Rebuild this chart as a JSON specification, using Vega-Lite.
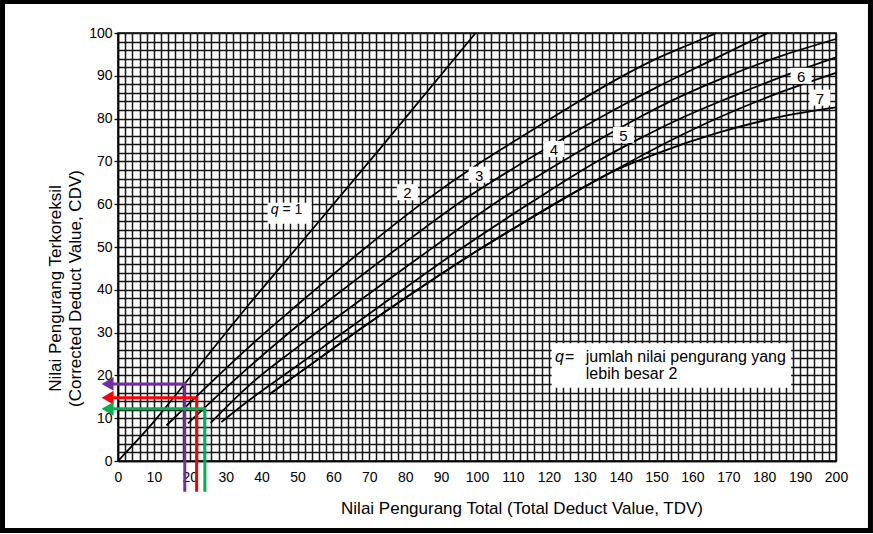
{
  "$schema": "https://vega.github.io/schema/vega-lite/v6.json",
  "width": 718,
  "height": 428,
  "autosize": {"type": "none"},
  "padding": {"left": 118, "top": 33, "right": 37, "bottom": 73},
  "background": "white",
  "config": {
    "font": "Liberation Sans",
    "view": {"stroke": "#000", "strokeWidth": 1.5}
  },
  "datasets": {
    "curves": [
      {"q": "1", "x": 0, "y": 0}, {"q": "1", "x": 10, "y": 9.2}, {"q": "1", "x": 20, "y": 19.5}, {"q": "1", "x": 36.7, "y": 36.8}, {"q": "1", "x": 50, "y": 50}, {"q": "1", "x": 73, "y": 73}, {"q": "1", "x": 99.6, "y": 100},
      {"q": "2", "x": 13.5, "y": 8.3}, {"q": "2", "x": 20, "y": 13.6}, {"q": "2", "x": 36.7, "y": 26.8}, {"q": "2", "x": 50, "y": 36.5}, {"q": "2", "x": 68.6, "y": 49.6}, {"q": "2", "x": 85.3, "y": 60.6}, {"q": "2", "x": 100, "y": 69.2}, {"q": "2", "x": 111.7, "y": 75.4}, {"q": "2", "x": 125.6, "y": 82.6}, {"q": "2", "x": 139.4, "y": 89.4}, {"q": "2", "x": 150, "y": 94}, {"q": "2", "x": 160, "y": 97.6}, {"q": "2", "x": 166.7, "y": 100},
      {"q": "3", "x": 19.5, "y": 8.8}, {"q": "3", "x": 36.7, "y": 22.1}, {"q": "3", "x": 50, "y": 31.6}, {"q": "3", "x": 77.4, "y": 49.4}, {"q": "3", "x": 95.9, "y": 60.8}, {"q": "3", "x": 111.7, "y": 69.2}, {"q": "3", "x": 125, "y": 75.8}, {"q": "3", "x": 139.4, "y": 82.6}, {"q": "3", "x": 150, "y": 87.3}, {"q": "3", "x": 165, "y": 93.5}, {"q": "3", "x": 181, "y": 100},
      {"q": "4", "x": 25.8, "y": 8.9}, {"q": "4", "x": 36.7, "y": 17.8}, {"q": "4", "x": 50, "y": 26.6}, {"q": "4", "x": 87.1, "y": 49.5}, {"q": "4", "x": 105.6, "y": 60.6}, {"q": "4", "x": 121.4, "y": 68.8}, {"q": "4", "x": 133.9, "y": 75}, {"q": "4", "x": 145, "y": 80.2}, {"q": "4", "x": 156, "y": 84.9}, {"q": "4", "x": 170, "y": 90}, {"q": "4", "x": 185, "y": 94.7}, {"q": "4", "x": 200, "y": 98.6},
      {"q": "5", "x": 28.8, "y": 9.1}, {"q": "5", "x": 36.7, "y": 14.3}, {"q": "5", "x": 50, "y": 22.3}, {"q": "5", "x": 70, "y": 34.4}, {"q": "5", "x": 95, "y": 49.3}, {"q": "5", "x": 115.8, "y": 60.8}, {"q": "5", "x": 133.9, "y": 70.2}, {"q": "5", "x": 145, "y": 75.2}, {"q": "5", "x": 156.1, "y": 79.8}, {"q": "5", "x": 170, "y": 84.8}, {"q": "5", "x": 185, "y": 89.8}, {"q": "5", "x": 200, "y": 94.3},
      {"q": "6", "x": 42.2, "y": 15.6}, {"q": "6", "x": 50, "y": 20.3}, {"q": "6", "x": 70, "y": 32.3}, {"q": "6", "x": 100.6, "y": 49.4}, {"q": "6", "x": 111.7, "y": 55.1}, {"q": "6", "x": 125.6, "y": 62}, {"q": "6", "x": 137, "y": 67.3}, {"q": "6", "x": 150, "y": 73.2}, {"q": "6", "x": 167.2, "y": 80.2}, {"q": "6", "x": 185, "y": 86.3}, {"q": "6", "x": 200, "y": 90.7},
      {"q": "7", "x": 42.2, "y": 15.6}, {"q": "7", "x": 50, "y": 20.3}, {"q": "7", "x": 70, "y": 32.3}, {"q": "7", "x": 100.6, "y": 49.4}, {"q": "7", "x": 111.7, "y": 55.1}, {"q": "7", "x": 125.6, "y": 62}, {"q": "7", "x": 137, "y": 67.3}, {"q": "7", "x": 150, "y": 71.8}, {"q": "7", "x": 167.2, "y": 76.7}, {"q": "7", "x": 185, "y": 80.5}, {"q": "7", "x": 200, "y": 82.6}
    ],
    "digits": [
      {"t": "2", "x": 80.6, "y": 62.8},
      {"t": "3", "x": 100.6, "y": 66.9},
      {"t": "4", "x": 121.4, "y": 72.9},
      {"t": "5", "x": 140.8, "y": 76.2},
      {"t": "6", "x": 190.3, "y": 90},
      {"t": "7", "x": 195.5, "y": 84.9}
    ],
    "qbox": [{"x": 47.8, "y": 57.9}],
    "notes": [
      {"k": "qi", "t": "q", "x": 43.6, "y": 58.6},
      {"k": "qn", "t": "= 1", "x": 45.8, "y": 58.6},
      {"k": "li", "t": "q", "x": 121.7, "y": 23.2},
      {"k": "ln", "t": "=", "x": 124.5, "y": 23.2},
      {"k": "ln", "t": "jumlah nilai pengurang yang", "x": 130.3, "y": 23.2},
      {"k": "ln", "t": "lebih besar 2", "x": 130.3, "y": 19.1}
    ],
    "arrows": [
      {"c": "purple", "o": 0, "x": 18.6, "y": -7.2}, {"c": "purple", "o": 1, "x": 18.6, "y": 18}, {"c": "purple", "o": 2, "x": -2, "y": 18},
      {"c": "red", "o": 0, "x": 21.9, "y": -7.2}, {"c": "red", "o": 1, "x": 21.9, "y": 14.8}, {"c": "red", "o": 2, "x": -2, "y": 14.8},
      {"c": "green", "o": 0, "x": 24.2, "y": -7.2}, {"c": "green", "o": 1, "x": 24.2, "y": 12.2}, {"c": "green", "o": 2, "x": -2, "y": 12.2}
    ],
    "heads": [
      {"c": "purple", "x": -2.9, "y": 18},
      {"c": "red", "x": -2.9, "y": 14.8},
      {"c": "green", "x": -2.9, "y": 12.2}
    ]
  },
  "layer": [
    {
      "data": {"name": "curves"},
      "mark": {"type": "line", "interpolate": "monotone", "color": "#000", "strokeWidth": 1.8},
      "encoding": {
        "x": {
          "field": "x", "type": "quantitative",
          "scale": {"domain": [0, 200], "nice": false, "zero": false},
          "axis": {
            "title": "Nilai Pengurang Total (Total Deduct Value, TDV)",
            "values": [0,2,4,6,8,10,12,14,16,18,20,22,24,26,28,30,32,34,36,38,40,42,44,46,48,50,52,54,56,58,60,62,64,66,68,70,72,74,76,78,80,82,84,86,88,90,92,94,96,98,100,102,104,106,108,110,112,114,116,118,120,122,124,126,128,130,132,134,136,138,140,142,144,146,148,150,152,154,156,158,160,162,164,166,168,170,172,174,176,178,180,182,184,186,188,190,192,194,196,198,200],
            "tickCount": 1000,
            "format": "d",
            "labelExpr": "datum.value % 10 === 0 ? datum.label : ''",
            "labelOverlap": false, "labelFlush": false, "labelBound": false,
            "ticks": false,
            "grid": true, "gridColor": "#141414", "gridWidth": 1.5, "gridOpacity": 1,
            "domainColor": "#000", "domainWidth": 1.5,
            "labelFontSize": 14, "labelColor": "#000", "labelPadding": 9,
            "titleFontSize": 17, "titleFontWeight": "normal", "titleColor": "#000",
            "titleX": 403.5, "titleY": 52.5, "titleBaseline": "alphabetic", "titleAlign": "center"
          }
        },
        "y": {
          "field": "y", "type": "quantitative",
          "scale": {"domain": [0, 100], "nice": false, "zero": false},
          "axis": {
            "title": ["Nilai Pengurang Terkoreksil", "(Corrected Deduct Value, CDV)"],
            "values": [0,2,4,6,8,10,12,14,16,18,20,22,24,26,28,30,32,34,36,38,40,42,44,46,48,50,52,54,56,58,60,62,64,66,68,70,72,74,76,78,80,82,84,86,88,90,92,94,96,98,100],
            "tickCount": 1000,
            "format": "d",
            "labelExpr": "datum.value % 10 === 0 ? datum.label : ''",
            "labelOverlap": false, "labelFlush": false, "labelBound": false,
            "ticks": true, "tickSize": 4, "tickColor": "#000", "tickWidth": 1.3,
            "tickOpacity": {"condition": {"test": "datum.value % 10 === 0", "value": 1}, "value": 0},
            "grid": true, "gridColor": "#141414", "gridWidth": 1.5, "gridOpacity": 1,
            "domainColor": "#000", "domainWidth": 1.5,
            "labelFontSize": 14, "labelColor": "#000", "labelPadding": 2,
            "titleFontSize": 17, "titleFontWeight": "normal", "titleColor": "#000",
            "titleAngle": -90, "titleX": -54, "titleY": 255, "titleAlign": "center", "titleBaseline": "bottom", "titleLineHeight": 20
          }
        },
        "detail": {"field": "q", "type": "nominal"}
      }
    },
    {
      "data": {"name": "digits"},
      "mark": {"type": "point", "shape": "M-1,-0.76H1V0.76H-1Z", "size": 441, "filled": true, "color": "white", "opacity": 1},
      "encoding": {
        "x": {"field": "x", "type": "quantitative"},
        "y": {"field": "y", "type": "quantitative"}
      }
    },
    {
      "data": {"name": "qbox"},
      "mark": {"type": "point", "shape": "M-1,-0.477H1V0.477H-1Z", "size": 1936, "filled": true, "color": "white", "opacity": 1},
      "encoding": {
        "x": {"field": "x", "type": "quantitative"},
        "y": {"field": "y", "type": "quantitative"}
      }
    },
    {
      "data": {"name": "digits"},
      "mark": {"type": "text", "fontSize": 15, "color": "#000", "align": "center", "baseline": "middle", "dy": 1},
      "encoding": {
        "x": {"field": "x", "type": "quantitative"},
        "y": {"field": "y", "type": "quantitative"},
        "text": {"field": "t"}
      }
    },
    {
      "data": {"values": [{}]},
      "mark": {"type": "rect", "color": "white", "opacity": 1},
      "encoding": {
        "x": {"datum": 120.8, "type": "quantitative"}, "x2": {"datum": 187.5},
        "y": {"datum": 27.5, "type": "quantitative"}, "y2": {"datum": 17.1}
      }
    },
    {
      "data": {"name": "notes"},
      "transform": [{"filter": "datum.k === 'qi'"}],
      "mark": {"type": "text", "fontSize": 14, "fontStyle": "italic", "color": "#000", "align": "center", "baseline": "middle"},
      "encoding": {
        "x": {"field": "x", "type": "quantitative"},
        "y": {"field": "y", "type": "quantitative"},
        "text": {"field": "t"}
      }
    },
    {
      "data": {"name": "notes"},
      "transform": [{"filter": "datum.k === 'qn'"}],
      "mark": {"type": "text", "fontSize": 14, "color": "#000", "align": "left", "baseline": "middle"},
      "encoding": {
        "x": {"field": "x", "type": "quantitative"},
        "y": {"field": "y", "type": "quantitative"},
        "text": {"field": "t"}
      }
    },
    {
      "data": {"name": "notes"},
      "transform": [{"filter": "datum.k === 'li'"}],
      "mark": {"type": "text", "fontSize": 16, "fontStyle": "italic", "color": "#000", "align": "left", "baseline": "alphabetic"},
      "encoding": {
        "x": {"field": "x", "type": "quantitative"},
        "y": {"field": "y", "type": "quantitative"},
        "text": {"field": "t"}
      }
    },
    {
      "data": {"name": "notes"},
      "transform": [{"filter": "datum.k === 'ln'"}],
      "mark": {"type": "text", "fontSize": 16, "color": "#000", "align": "left", "baseline": "alphabetic"},
      "encoding": {
        "x": {"field": "x", "type": "quantitative"},
        "y": {"field": "y", "type": "quantitative"},
        "text": {"field": "t"}
      }
    },
    {
      "data": {"name": "arrows"},
      "mark": {"type": "line", "strokeWidth": 3, "strokeJoin": "miter", "strokeCap": "butt"},
      "encoding": {
        "x": {"field": "x", "type": "quantitative"},
        "y": {"field": "y", "type": "quantitative"},
        "order": {"field": "o", "type": "quantitative"},
        "color": {"field": "c", "type": "nominal", "scale": {"domain": ["purple", "red", "green"], "range": ["#7030A0", "#FF0000", "#00B050"]}, "legend": null}
      }
    },
    {
      "data": {"name": "heads"},
      "mark": {"type": "point", "shape": "triangle-left", "size": 190, "filled": true, "opacity": 1},
      "encoding": {
        "x": {"field": "x", "type": "quantitative"},
        "y": {"field": "y", "type": "quantitative"},
        "color": {"field": "c", "type": "nominal", "scale": {"domain": ["purple", "red", "green"], "range": ["#7030A0", "#FF0000", "#00B050"]}, "legend": null}
      }
    },
    {
      "data": {"values": [{}]},
      "mark": {"type": "rect", "fill": null, "fillOpacity": 0, "stroke": "#000", "strokeWidth": 5},
      "encoding": {
        "x": {"datum": -32.17, "type": "quantitative"}, "x2": {"datum": 209.6},
        "y": {"datum": 107.36, "type": "quantitative"}, "y2": {"datum": -16.24}
      }
    }
  ]
}
